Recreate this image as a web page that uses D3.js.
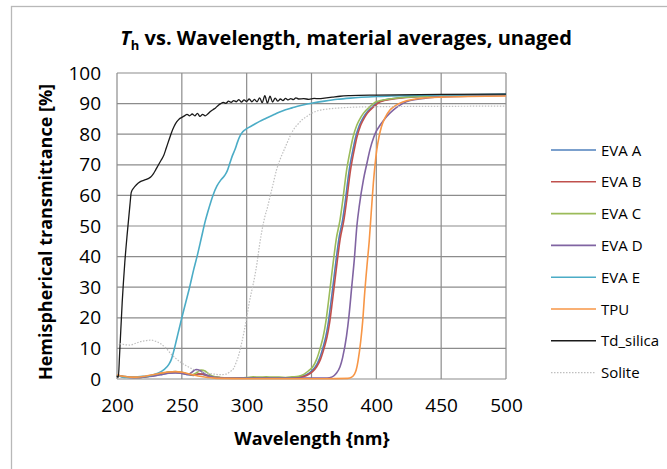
<!DOCTYPE html>
<html>
<head>
<meta charset="utf-8">
<script src="https://cdn.jsdelivr.net/npm/d3@7"></script>
<style>
  body { margin: 0; background: #fff; }
  svg text { font-family: "Open Sans", Lato, sans-serif; fill: #000; }
</style>
</head>
<body>
<div class="grafico"></div>
<script>
// series names + colours (legend order)
var seriesNames = ["EVA A", "EVA B", "EVA C", "EVA D", "EVA E", "TPU", "Td_silica", "Solite"];
var seriesColors = ["#4F81BD", "#C0504D", "#9BBB59", "#8064A2", "#4BACC6", "#F79646", "#1a1a1a", "#BFBFBF"];

var xTicks = [200, 250, 300, 350, 400, 450, 500];
var yTicks = [0, 10, 20, 30, 40, 50, 60, 70, 80, 90, 100];

// [wavelength nm, Th %]
var evaA = [[200,1.2],[203,0.9],[206,0.7],[210,0.5],[215,0.5],[220,0.6],[225,0.9],[230,1.2],[235,1.6],[240,2],[245,2.1],[250,1.9],[255,1.4],[259,1.2],[263,1.6],[266,1.5],[270,1],[275,0.6],[280,0.4],[290,0.3],[300,0.4],[310,0.4],[320,0.4],[330,0.4],[337,0.5],[342,0.8],[346,1.4],[350,2.6],[353,4],[356,6.5],[359,10.5],[361,13.8],[363,18.5],[365,25],[367,32],[369,39],[371,45.5],[374,52],[376,58],[379,68],[382,75],[384,79],[387,83],[390,85.5],[392,86.8],[397,89],[402,90.6],[412,91.6],[422,92.1],[450,92.6],[500,93]];
var evaB = [[200,1.3],[203,1],[206,0.8],[210,0.6],[215,0.5],[220,0.6],[225,1],[230,1.4],[235,1.8],[240,2.2],[245,2.3],[250,2.1],[255,1.6],[259,1.3],[263,1.7],[266,1.6],[270,1.1],[275,0.6],[280,0.4],[290,0.3],[300,0.3],[310,0.3],[320,0.3],[330,0.3],[338,0.4],[343,0.7],[347,1.3],[351,2.5],[354,4],[357,6.5],[360,10.5],[362,13.8],[364,18.5],[366,25],[368,32],[370,39],[372,45.5],[375,52],[377,58],[380,68],[383,75],[385,79],[388,83],[391,85.5],[393,86.8],[398,89],[403,90.6],[413,91.5],[423,92],[450,92.5],[500,92.9]];
var evaC = [[200,1.3],[203,0.9],[206,0.8],[210,0.6],[215,0.5],[220,0.6],[225,0.9],[230,1.3],[235,1.8],[240,2.3],[245,2.4],[250,2.1],[255,1.6],[258,1.4],[262,2.2],[265,2.9],[268,2.6],[271,1.6],[275,0.8],[280,0.5],[290,0.3],[300,0.5],[305,0.7],[310,0.6],[315,0.7],[320,0.6],[325,0.6],[330,0.5],[335,0.7],[340,0.9],[344,1.5],[348,2.8],[351,4],[354,6.5],[357,10.5],[359,13.8],[361,18.5],[363,25],[365,32],[367,39],[369,45.5],[372,52],[374,58],[377,68],[380,75],[382,79],[385,83],[388,85.5],[390,86.8],[395,89],[400,90.6],[410,91.5],[420,92],[450,92.5],[500,92.8]];
var evaD = [[200,1.2],[203,0.8],[206,0.7],[210,0.5],[215,0.5],[220,0.6],[225,0.8],[230,1.1],[235,1.5],[240,1.9],[245,2],[250,1.8],[255,1.5],[258,2.3],[261,3.1],[264,2.8],[267,1.8],[271,1],[275,0.6],[280,0.4],[290,0.3],[300,0.3],[320,0.3],[340,0.3],[355,0.3],[362,0.3],[366,0.7],[369,1.8],[372,4],[374,7],[377,14],[379,21],[381,30],[383,39],[385,50],[387,57],[390,65],[393,71],[395,74.8],[398,79],[400,81],[403,83],[408,85.8],[413,87.9],[418,89.4],[423,90.6],[433,91.5],[450,92.2],[500,92.7]];
var evaE = [[200,1.2],[203,0.8],[207,0.5],[212,0.6],[218,0.8],[224,1],[228,1.4],[232,2],[236,3],[240,4.8],[242,6.5],[244,9.5],[246,13],[248,16.5],[250,20],[253,25],[256,30],[259,35.5],[262,40.5],[265,46],[268,51.5],[271,56],[274,60],[277,63],[280,65],[283,66.5],[285,68],[287,70.5],[289,73],[291,75],[293,77.5],[295,79.5],[297,80.8],[300,81.8],[305,83],[310,84.2],[315,85.2],[320,86.2],[325,87.2],[330,88],[335,88.6],[340,89.2],[345,89.7],[350,90.1],[360,90.8],[370,91.4],[380,91.8],[400,92.3],[450,92.8],[500,93]];
var tpu = [[200,1.4],[203,1],[206,0.8],[210,0.6],[215,0.6],[220,0.8],[225,1.2],[230,1.6],[235,2],[240,2.3],[245,2.4],[250,2.2],[255,1.7],[260,1.2],[265,0.8],[270,0.5],[275,0.3],[280,0.2],[300,0.1],[330,0.1],[360,0.1],[378,0.2],[381,0.6],[383,1.5],[384.5,3],[386,6.2],[388,12.5],[389.5,19],[391,28],[393,38],[394.5,45],[396,54],[397.7,64],[399,70],[400.3,74.8],[402,79],[404,82.5],[407,85.6],[410.5,87.9],[415,89.4],[421,90.6],[434,91.7],[450,92.1],[500,92.5]];
var tdSilica = [[200,1],[201,0.5],[202,8],[204,25],[206,38],[208,48],[210,57],[211,61],[213,62.5],[215,63.5],[218,64.5],[221,65],[224,65.5],[226,66],[228,67],[230,68.5],[232,70],[234,71.5],[236,73],[238,75.5],[240,78],[242,80.5],[244,82.5],[246,84],[248,85],[250,85.5],[252,86],[254,86.5],[256,86],[258,86.6],[260,86],[262,86.8],[264,85.8],[266,86.5],[268,86],[270,86.6],[272,87.4],[274,88],[276,88.6],[278,89.4],[280,90],[282,90.4],[284,90.1],[286,90.8],[288,90.4],[290,91],[292,90.6],[294,91.3],[296,90.5],[298,91.2],[300,90.7],[302,91.5],[304,90.6],[306,91.4],[308,90.6],[310,91.9],[312,90.3],[314,92.6],[316,90.2],[318,92.4],[320,90.5],[322,91.8],[324,90.8],[326,91.5],[328,91],[330,91.7],[332,91.2],[334,91.6],[336,91.3],[338,91.9],[340,91.5],[344,91.6],[348,91.4],[352,91.7],[356,91.6],[360,91.8],[366,92.1],[372,92.4],[380,92.6],[400,92.8],[450,93],[500,93.1]];
var solite = [[200,11],[203,11.5],[206,11.2],[210,11.1],[214,11.6],[218,12.2],[222,12.5],[226,12.7],[230,12.3],[234,11.4],[238,10],[242,8],[246,6.5],[250,5.2],[254,4.2],[258,3.3],[262,2.6],[266,2.2],[270,1.9],[275,1.6],[280,1.4],[284,1.6],[287,2.3],[290,3.5],[292,5.5],[294,8],[296,11.5],[298,15.5],[300,20],[302,25],[304,29],[306,33],[308,38],[310,44],[312,49],[314,53],[316,56],[318,59.6],[320,63],[323,68.3],[326,72],[329,75],[331,77],[334,79.8],[336,81.4],[340,83.5],[343,84.8],[346,85.7],[350,86.8],[356,87.8],[362,88.2],[372,88.6],[400,89],[450,89.1],[500,89.2]];

var seriesData = [evaA, evaB, evaC, evaD, evaE, tpu, tdSilica, solite];

var W = 667, H = 469;
var margin = {top: 73, right: 161, bottom: 90, left: 117};
var width = W - margin.left - margin.right,
    height = H - margin.top - margin.bottom;

var svg = d3.select(".grafico").append("svg")
  .attr("width", W)
  .attr("height", H);

// chart frame
svg.append("rect")
  .attr("x", 11.5).attr("y", 6.5)
  .attr("width", 700).attr("height", 500)
  .attr("fill", "none").attr("stroke", "#b8b8b8").attr("stroke-width", 1.3);

// title
var title = svg.append("text")
  .attr("x", 346).attr("y", 45)
  .attr("text-anchor", "middle")
  .style("font-size", "20px").style("font-weight", "bold");
title.append("tspan").style("font-style", "italic").text("T");
title.append("tspan").attr("dy", 5).style("font-size", "13px").text("h");
title.append("tspan").attr("dy", -5).text(" vs. Wavelength, material averages, unaged");

var g = svg.append("g")
  .attr("transform", "translate(" + margin.left + "," + margin.top + ")");

var x = d3.scaleLinear().domain([200, 500]).range([0, width]),
    y = d3.scaleLinear().domain([0, 100]).range([height, 0]);

// gridlines
g.append("g").selectAll("line.h")
  .data(yTicks).enter().append("line")
  .attr("x1", 0).attr("x2", width)
  .attr("y1", d => y(d)).attr("y2", d => y(d))
  .attr("stroke", "#8c8c8c").attr("stroke-width", 1.2);
g.append("g").selectAll("line.v")
  .data(xTicks).enter().append("line")
  .attr("x1", d => x(d)).attr("x2", d => x(d))
  .attr("y1", 0).attr("y2", height)
  .attr("stroke", "#8c8c8c").attr("stroke-width", 1.2);

// axes (labels only, Excel style)
var yAxis = g.append("g")
  .call(d3.axisLeft(y).tickValues(yTicks).tickSize(0).tickPadding(16));
var xAxis = g.append("g")
  .attr("transform", "translate(0," + height + ")")
  .call(d3.axisBottom(x).tickValues(xTicks).tickSize(0).tickPadding(20));
[yAxis, xAxis].forEach(a => {
  a.select(".domain").remove();
  a.selectAll("text").style("font-size", "19px").style("font-family", "'Open Sans', sans-serif").attr("fill", "#000");
});

svg.append("text")
  .attr("x", 312).attr("y", 445)
  .attr("text-anchor", "middle")
  .style("font-size", "18px").style("font-weight", "bold")
  .text("Wavelength {nm}");

svg.append("text")
  .attr("transform", "translate(52,232) rotate(-90)")
  .attr("text-anchor", "middle")
  .style("font-size", "18px").style("font-weight", "bold")
  .text("Hemispherical transmittance [%]");

// curves
var line = d3.line()
  .x(d => x(d[0]))
  .y(d => y(d[1]))
  .curve(d3.curveMonotoneX);

seriesData.forEach((s, i) => {
  g.append("path")
    .datum(s)
    .attr("fill", "none")
    .attr("stroke", seriesColors[i])
    .attr("stroke-width", seriesNames[i] === "Solite" ? 1.2 : (seriesNames[i] === "Td_silica" ? 1.3 : 1.6))
    .attr("stroke-dasharray", seriesNames[i] === "Solite" ? "1.5,1.5" : null)
    .attr("d", line);
});

// legend
var leg = svg.append("g").attr("transform", "translate(551,150)");
seriesNames.forEach((n, i) => {
  var row = leg.append("g").attr("transform", "translate(0," + (i * 31.8) + ")");
  row.append("line")
    .attr("x1", 0).attr("x2", 45)
    .attr("stroke", seriesColors[i])
    .attr("stroke-width", n === "Solite" ? 1.2 : 1.6)
    .attr("stroke-dasharray", n === "Solite" ? "1.5,1.5" : null);
  row.append("text")
    .attr("x", 50).attr("y", 5.5)
    .style("font-size", "15px")
    .text(n);
});
</script>
</body>
</html>
